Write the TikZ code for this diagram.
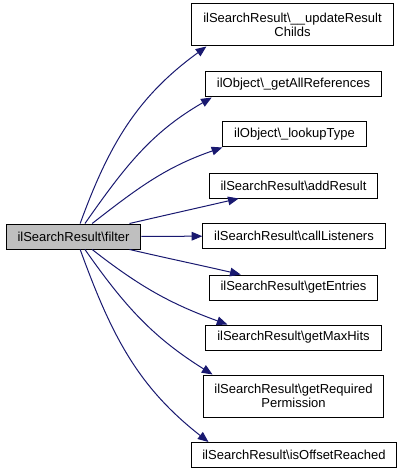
\documentclass[tikz,border=0pt]{standalone}
\usepackage{fontspec}
\setmainfont{Liberation Sans}
\usetikzlibrary{arrows.meta}
\definecolor{callblue}{RGB}{25,25,112}
\definecolor{rootgray}{RGB}{191,191,191}
\tikzset{every picture/.style={line width=0.75pt}}

\begin{document}
\begin{tikzpicture}[x=0.75pt,y=0.75pt,yscale=-1,xscale=1,
  fnbox/.style={draw=black,rectangle,inner xsep=8.5pt,inner ysep=2pt,minimum height=18.75pt,font=\fontsize{9.75}{10.5}\selectfont,align=center},
  fnboxtall/.style={fnbox,minimum height=31.5pt},
  call/.style={draw=callblue,-{Triangle[length=8pt,width=6.5pt]}}]
\useasboundingbox (0,0) rectangle (404,474);

% Text Node
\node (filter) at (73.5,236.5) [fnbox,fill=rootgray] {ilSearchResult\textbackslash filter};
% Text Node
\node (updchilds) at (292.5,25) [fnboxtall] {ilSearchResult\textbackslash\_\_updateResult\\Childs};
% Text Node
\node (allrefs) at (293.5,84.5) [fnbox] {ilObject\textbackslash\_getAllReferences};
% Text Node
\node (lookup) at (294.5,134.5) [fnbox] {ilObject\textbackslash\_lookupType};
% Text Node
\node (addres) at (293.5,185.5) [fnbox] {ilSearchResult\textbackslash addResult};
% Text Node
\node (listeners) at (294,236) [fnbox] {ilSearchResult\textbackslash callListeners};
% Text Node
\node (entries) at (293.5,287.5) [fnbox] {ilSearchResult\textbackslash getEntries};
% Text Node
\node (maxhits) at (293.5,337.5) [fnbox] {ilSearchResult\textbackslash getMaxHits};
% Text Node
\node (reqperm) at (293.5,396) [fnboxtall] {ilSearchResult\textbackslash getRequired\\Permission};
% Text Node
\node (offset) at (294,455) [fnbox] {ilSearchResult\textbackslash isOffsetReached};

%Curve Lines
\draw [call] ([xshift=5pt]filter.north) to[out=-70,in=144] ([xshift=11.25pt]updchilds.south west);
\draw [call] ([xshift=8.6pt]filter.north) to[out=-55,in=150] ([xshift=5pt]allrefs.south west);
\draw [call] ([xshift=14pt]filter.north) to[out=-38,in=161] (lookup.south west);
\draw [call] ([xshift=42pt]filter.north) to[out=-13,in=167] ([xshift=22.5pt]addres.south west);
%Straight Lines
\draw [call] (filter) -- (listeners);
%Curve Lines
\draw [call] ([xshift=42pt]filter.south) to[out=13,in=193] ([xshift=24pt]entries.north west);
\draw [call] ([xshift=14pt]filter.south) to[out=38,in=200] ([xshift=16.5pt]maxhits.north west);
\draw [call] ([xshift=8.6pt]filter.south) to[out=55,in=212] ([xshift=7.5pt]reqperm.north west);
\draw [call] ([xshift=5pt]filter.south) to[out=70,in=218] ([xshift=13.5pt]offset.north west);

\end{tikzpicture}
\end{document}
